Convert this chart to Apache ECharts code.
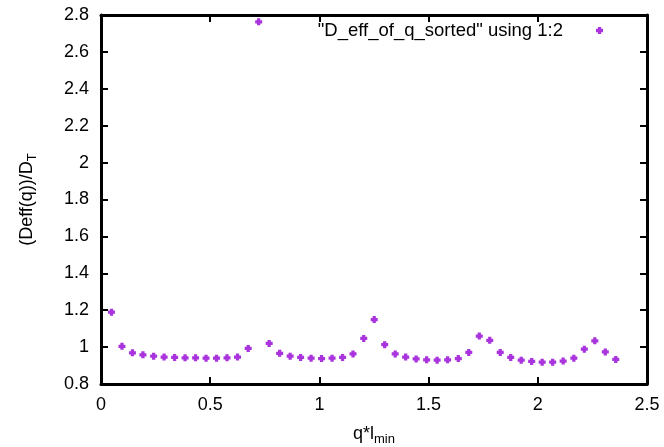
<!DOCTYPE html>
<html>
<head>
<meta charset="utf-8">
<script src="https://cdn.jsdelivr.net/npm/echarts@6/dist/echarts.min.js"></script>
<style>html,body{margin:0;padding:0;background:#fff}#c{width:664px;height:447px}</style>
</head>
<body>
<div id="c"></div>
<script>
const qValues = [0.048,0.096,0.144,0.192,0.241,0.289,0.337,0.385,0.433,0.481,0.529,0.577,0.625,0.674,0.722,0.770,0.818,0.866,0.914,0.962,1.010,1.058,1.106,1.154,1.203,1.251,1.299,1.347,1.395,1.443,1.491,1.539,1.587,1.636,1.684,1.732,1.780,1.828,1.876,1.924,1.972,2.020,2.068,2.116,2.165,2.213,2.261,2.309,2.357];
const deffValues = [1.189,1.004,0.969,0.958,0.951,0.946,0.944,0.942,0.942,0.940,0.940,0.942,0.946,0.993,2.763,1.020,0.966,0.951,0.944,0.940,0.938,0.940,0.944,0.963,1.047,1.149,1.013,0.963,0.946,0.936,0.931,0.929,0.931,0.938,0.971,1.060,1.037,0.971,0.944,0.929,0.922,0.918,0.918,0.924,0.940,0.989,1.034,0.974,0.933];
const seriesName = '"D_eff_of_q_sorted" using 1:2';
const xTicks = [0, 0.5, 1, 1.5, 2, 2.5];
const yTicks = [0.8, 1, 1.2, 1.4, 1.6, 1.8, 2, 2.2, 2.4, 2.6, 2.8];

const data = qValues.map((q, i) => [q, deffValues[i]]);
const marker = 'path://M1.6,0H4.4V1.6H6V4.4H4.4V6H1.6V4.4H0V1.6H1.6Z';
const color = '#9400d3';
const font = 'Liberation Sans, Arial, sans-serif';
const fs = 18;

const chart = echarts.init(document.getElementById('c'), null, {renderer: 'canvas'});
const fmtY = v => String(Math.round(v * 10) / 10);
const axisLine = {show: true, onZero: false, lineStyle: {color: '#000', width: 3}};
const tick = {show: true, inside: true, length: 7, lineStyle: {color: '#000', width: 2}};
const sub = {fontFamily: font, fontSize: 13, color: '#000', verticalAlign: 'bottom', padding: [10, 0, 0, 0]};
chart.setOption({
  animation: false,
  grid: {left: 101, right: 17, top: 15, bottom: 63, containLabel: false, outerBoundsMode: 'none'},
  legend: {
    show: true, right: 56, top: 16, itemWidth: 7, itemHeight: 7, itemGap: 0,
    align: 'right',
    textStyle: {fontFamily: font, fontSize: 18.5, color: '#000', padding: [0, 28, 0, 0]},
    data: [{name: seriesName, icon: marker}]
  },
  xAxis: [{
    type: 'value', min: 0, max: 2.5, interval: 0.5, position: 'bottom',
    axisLine, axisTick: tick, splitLine: {show: false},
    axisLabel: {fontFamily: font, fontSize: fs, color: '#000', margin: 12, formatter: v => String(v)},
    name: '{a|q*l}{s|min}', nameLocation: 'middle', nameGap: 39,
    nameTextStyle: {rich: {a: {fontFamily: font, fontSize: fs, color: '#000'}, s: sub}}
  }, {
    type: 'value', min: 0, max: 2.5, interval: 0.5, position: 'top',
    axisLine, axisTick: tick, axisLabel: {show: false}, splitLine: {show: false}
  }],
  yAxis: [{
    type: 'value', min: 0.8, max: 2.8, interval: 0.2, position: 'left',
    axisLine, axisTick: tick, splitLine: {show: false},
    axisLabel: {fontFamily: font, fontSize: fs, color: '#000', margin: 12, formatter: fmtY},
    name: '{a|(Deff(q))/D}{s|T}', nameLocation: 'middle', nameGap: 62, nameRotate: 90,
    nameTextStyle: {rich: {a: {fontFamily: font, fontSize: fs, color: '#000'}, s: sub}}
  }, {
    type: 'value', min: 0.8, max: 2.8, interval: 0.2, position: 'right',
    axisLine, axisTick: tick, axisLabel: {show: false}, splitLine: {show: false}
  }],
  series: [{
    name: seriesName, type: 'scatter', data,
    symbol: marker, symbolSize: 7,
    itemStyle: {color}
  }]
});
</script>
</body>
</html>
